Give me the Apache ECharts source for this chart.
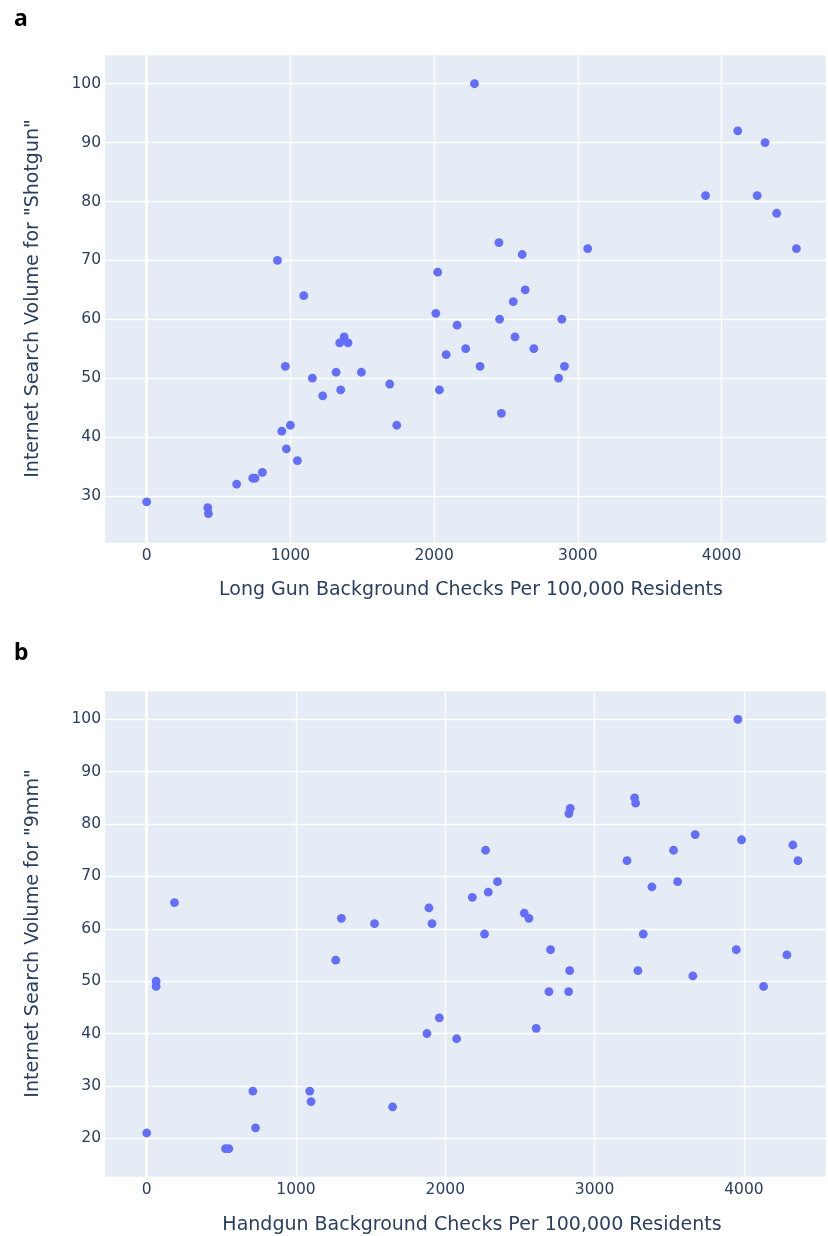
<!DOCTYPE html>
<html>
<head>
<meta charset="utf-8">
<script src="https://cdn.jsdelivr.net/npm/echarts@6/dist/echarts.min.js"></script>
<style>
html,body{margin:0;padding:0;background:#fff;}
#chart{width:828px;height:1236px;}
</style>
</head>
<body>
<div id="chart"></div>
<script>
// Panel a: long gun checks vs "Shotgun" search volume
const longGunChecks = [0,425,430,626,738,754,805,910,1093,965,940,1000,972,1049,1153,1225,1318,1350,1343,1374,1401,1494,1691,1740,2025,2012,2160,2084,2220,2037,2281,2320,2451,2613,2634,2551,2456,2889,2563,2694,2907,2866,2468,3069,3889,4113,4303,4248,4384,4521];
const shotgunVolume = [29,28,27,32,33,33,34,70,64,52,41,42,38,36,50,47,51,48,56,57,56,51,49,42,68,61,59,54,55,48,100,52,73,71,65,63,60,60,57,55,52,50,44,72,81,92,90,81,78,72];
// Panel b: handgun checks vs "9mm" search volume
const handgunChecks = [0,186,63,63,528,550,711,729,1092,1101,1304,1266,1526,1647,1890,1911,1960,1877,2076,2181,3960,3268,3275,2837,2828,3674,3984,4328,4362,2270,3529,3217,2350,3556,3384,2288,2529,2560,2263,3326,2705,3949,4288,2833,3290,3658,2694,2826,4132,2609];
const nineMmVolume = [21,65,50,49,18,18,29,22,29,27,62,54,61,26,64,61,43,40,39,66,100,85,84,83,82,78,77,76,73,75,75,73,69,69,68,67,63,62,59,59,56,56,55,52,52,51,48,48,49,41];

const panelLabels = ['a','b'];
const xTitles = ['Long Gun Background Checks Per 100,000 Residents','Handgun Background Checks Per 100,000 Residents'];
const yTitles = ['Internet Search Volume for "Shotgun"','Internet Search Volume for "9mm"'];
const xTickStep = 1000;
const yTickStep = 10;
const xRanges = [[-297,4727],[-286,4550]];
const yRanges = [[22,105.05],[12.6,105.6]];

const FONT = 'DejaVu Sans';
const TXT = '#2a3f5f';

function pairs(xs, ys){ return xs.map((x,i)=>[x, ys[i]]); }

const chart = echarts.init(document.getElementById('chart'), null, {renderer:'canvas'});

const grids = [
  {left:104, top:54, width:722, height:489, backgroundColor:'#e5ecf6', show:true, borderWidth:0},
  {left:104, top:690, width:722, height:488, backgroundColor:'#e5ecf6', show:true, borderWidth:0}
];

function xAxis(i){
  return {
    type:'value', gridIndex:i, min:xRanges[i][0], max:xRanges[i][1],
    minInterval:xTickStep, maxInterval:xTickStep,
    name:xTitles[i], nameLocation:'middle', nameGap:[38,39][i],
    nameTextStyle:{fontFamily:FONT, fontSize:19, color:TXT, padding:[0,0,0,[12,14][i]]},
    axisLine:{show:false}, axisTick:{show:false},
    axisLabel:{fontFamily:FONT, fontSize:15.5, color:TXT, margin:5, showMinLabel:false, showMaxLabel:false,
               formatter:v => String(v)},
    splitLine:{show:true, lineStyle:{color:'#ffffff', width:1.4}}
  };
}
function yAxis(i){
  return {
    type:'value', gridIndex:i, min:yRanges[i][0], max:yRanges[i][1],
    minInterval:yTickStep, maxInterval:yTickStep,
    name:yTitles[i], nameLocation:'middle', nameGap:61, nameRotate:90,
    nameTextStyle:{fontFamily:FONT, fontSize:19, color:TXT},
    axisLine:{show:false}, axisTick:{show:false},
    axisLabel:{fontFamily:FONT, fontSize:15.5, color:TXT, margin:3, showMinLabel:false, showMaxLabel:false,
               formatter:v => String(v)},
    splitLine:{show:true, lineStyle:{color:'#ffffff', width:1.4}}
  };
}

function series(i, data){
  return {
    type:'scatter', xAxisIndex:i, yAxisIndex:i, data:data,
    symbol:'circle', symbolSize:8.8, z:3,
    itemStyle:{color:'#636efa', opacity:1},
    markLine:{
      silent:true, symbol:'none', z:1, animation:false,
      label:{show:false},
      lineStyle:{color:'#ffffff', width:2.8, type:'solid'},
      data:[{xAxis:0}]
    }
  };
}

chart.setOption({
  animation:false,
  title:[
    {text:panelLabels[0], left:9, top:3, textStyle:{fontFamily:'Noto Sans', fontWeight:'bold', fontSize:23, color:'#000'}},
    {text:panelLabels[1], left:9, top:637, textStyle:{fontFamily:'Noto Sans', fontWeight:'bold', fontSize:23, color:'#000'}}
  ],
  grid:grids,
  xAxis:[xAxis(0), xAxis(1)],
  yAxis:[yAxis(0), yAxis(1)],
  series:[series(0, pairs(longGunChecks, shotgunVolume)), series(1, pairs(handgunChecks, nineMmVolume))]
});
</script>
</body>
</html>
